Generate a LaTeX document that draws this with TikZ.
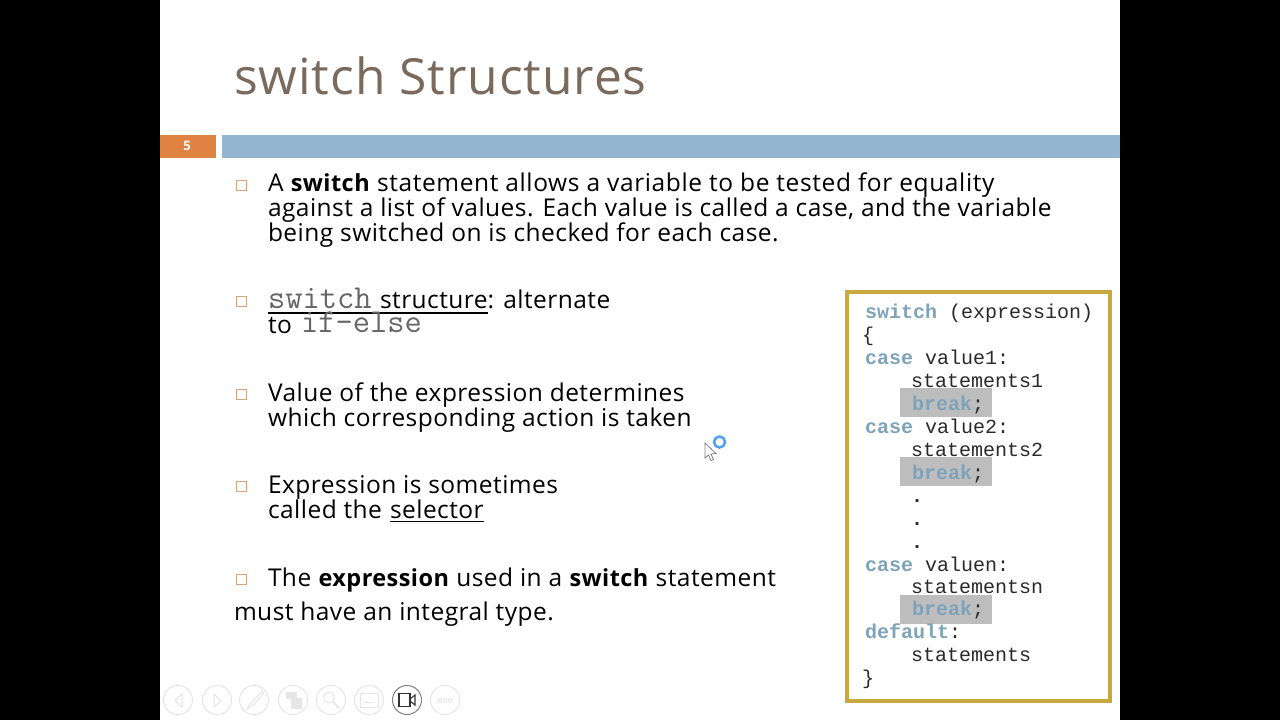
\documentclass[tikz,border=0pt]{standalone}
\usepackage{fontspec}
\setmainfont[LetterSpace=1.9]{Open Sans}
\newfontfamily\codefont{Liberation Mono}
\newfontfamily\typefont{Latin Modern Mono}
\usepackage{tikz}
\definecolor{titlebrown}{HTML}{7A6A5E}
\definecolor{barblue}{HTML}{93B5D0}
\definecolor{barorange}{HTML}{DF8242}
\definecolor{boxgold}{HTML}{C9A93F}
\definecolor{keyblue}{HTML}{7FA3BA}
\definecolor{breakgray}{HTML}{BDBDBD}
\definecolor{codeblack}{HTML}{2A2A2A}
\definecolor{bulletedge}{HTML}{D9A27E}
\definecolor{iconedge}{HTML}{E6E6E6}
\newcommand{\bodysize}{\fontsize{24.5}{24.5}\selectfont}
\newcommand{\codesize}{\fontsize{20}{20}\selectfont\codefont}
\newcommand{\typesize}{\fontsize{33.5}{33.5}\selectfont\typefont}
\newcommand{\kw}[1]{\textcolor{keyblue}{\textbf{#1}}}
\newcommand{\hl}[1]{{\fontsize{23.5}{23.5}\selectfont\textbf{#1}}}
\begin{document}
\begin{tikzpicture}[x=1pt,y=-1pt]
\tikzstyle{every node}=[inner sep=0pt,outer sep=0pt];
\tikzstyle{bodyline}=[anchor=base west,text=black,font=\bodysize];
\tikzstyle{typeline}=[anchor=base west,text=black!60,font=\typesize,text depth=0pt,text height=14pt];
\tikzstyle{codeline}=[anchor=base west,text=codeblack,font=\codesize];
\tikzstyle{bullet}=[draw=bulletedge,line width=1pt,fill=white];
\tikzstyle{icon}=[draw=iconedge,line width=1pt];
\useasboundingbox (0,0) rectangle (1280,720);
\fill [black] (0,0) rectangle (1280,720);
\fill [white] (160,0) rectangle (1120,720);
% header
\node [anchor=base west,text=titlebrown,font=\fontsize{49.8}{49.8}\selectfont] (title) at (234,94) {switch Structures};
\fill [barorange] (160,135) rectangle (216,158);
\fill [barblue] (222,135) rectangle (1120,158);
\node [text=white,font=\fontsize{13}{13}\selectfont\bfseries] (num) at (187,145.5) {5};
% bullets
\foreach \y in {185,301,394,486,579}
  \draw [bullet] (236.5,\y-5) rectangle (246.5,\y+5);
% left text
\node [bodyline] (t1) at (268,191) {A \hl{switch} \addfontfeature{LetterSpace=2.5}statement allows a variable to be tested for equality};
\node [bodyline] (t2) at (268,216) {against a list of values. Each value is called a case, and the variable};
\node [bodyline] (t3) at (268,241) {being switched on is checked for each case.};
\node [typeline] (s1) at (268,308) {switch};
\node [bodyline] (s2) at (380,308) {structure};
\node [bodyline] (s3) at (s2.base east) {: alternate};
\draw [line width=1.2pt] ([yshift=-5pt]s1.base west) -- ([yshift=-5pt]s2.base east);
\node [bodyline] (s4) at (268,333) {to};
\node [typeline] (s5) at (301,332) {if-else};
\node [bodyline] (v1) at (268,401) {Value of the expression determines};
\node [bodyline] (v2) at (268,426) {which corresponding action is taken};
\node [bodyline] (e1) at (268,493) {Expression is sometimes};
\node [bodyline] (e2) at (268,518) {called the};
\node [bodyline] (e3) at (390,518) {selector};
\draw [line width=1.2pt] ([yshift=-3.5pt]e3.base west) -- ([yshift=-3.5pt]e3.base east);
\node [bodyline] (i1) at (268,586) {The \hl{expression} used in a \hl{switch} statement};
\node [bodyline] (i2) at (234,620) {must have an integral type.};
% code box
\draw [boxgold,line width=3.5pt,fill=white] (847,292) rectangle (1110,701);
\foreach \y in {388,457,595}
  \fill [breakgray] (900,\y) rectangle (992,\y+29);
\node [codeline] (c1) at (865,318) {\kw{switch} (expression)};
\node [codeline] (c2) at (862,341) {\{};
\node [codeline] (c3) at (865,364) {\kw{case} value1:};
\node [codeline] (c4) at (911,387) {statements1};
\node [codeline] (c5) at (912,410) {\kw{break};};
\node [codeline] (c6) at (865,433) {\kw{case} value2:};
\node [codeline] (c7) at (911,456) {statements2};
\node [codeline] (c8) at (912,479) {\kw{break};};
\node [codeline] (d1) at (911,502) {\textbf{.}};
\node [codeline] (d2) at (911,525) {\textbf{.}};
\node [codeline] (d3) at (911,548) {\textbf{.}};
\node [codeline] (c9) at (865,571) {\kw{case} valuen:};
\node [codeline] (c10) at (911,593) {statementsn};
\node [codeline] (c11) at (912,615) {\kw{break};};
\node [codeline] (c12) at (865,638) {\kw{default}:};
\node [codeline] (c13) at (911,661) {statements};
\node [codeline] (c14) at (862,684) {\}};
% pointer
\draw [draw=gray,fill=white,line width=0.8pt] (705,443) -- (705,458) -- (708.5,455) -- (711,460.5) -- (713.5,459.5) -- (711,454) -- (716,453.5) -- cycle;
\draw [draw=white!45!blue!70!cyan,line width=2.5pt] (719.5,442) circle (5.5);
% slide show buttons
\foreach \x in {178,217,254,293,331,369,445}
  \draw [icon] (\x,700) circle (14.5);
\draw [draw=gray,line width=1pt] (407,700) circle (14.5);
\draw [icon] (182,694) -- (175,700.5) -- (182,707) -- cycle;
\draw [icon] (214,694) -- (221,700.5) -- (214,707) -- cycle;
\draw [icon] (262,691) -- (250,704) -- (247,709) -- (252,706) -- (264,693) -- cycle;
\draw [icon,fill=iconedge] (286,692) rectangle (296,698);
\draw [icon,fill=iconedge] (291,698) rectangle (301,708);
\draw [icon] (329,697.5) circle (5.5);
\draw [icon,line width=1.5pt] (333,702) -- (339,708);
\draw [icon] (360,693) rectangle (378,707);
\draw [icon] (363,702) -- (375,702);
\draw [black!80,line width=1.1pt,fill=white] (399,693.5) rectangle (410,706.5);
\draw [black!80,line width=1.1pt] (410,699) -- (415,695) -- (415,705) -- (410,701);
\foreach \x in {440,445,450}
  \draw [icon] (\x,700.5) circle (2);
\end{tikzpicture}
\end{document}
